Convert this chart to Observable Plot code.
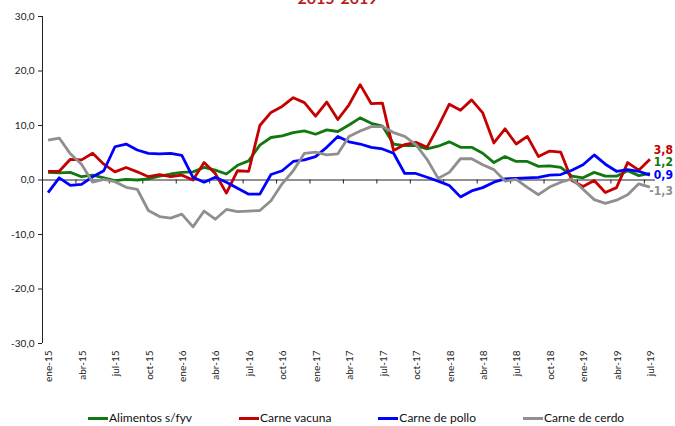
<!DOCTYPE html>
<html>
<head>
<meta charset="utf-8">
<script src="https://cdn.jsdelivr.net/npm/d3@7"></script>
<script src="https://cdn.jsdelivr.net/npm/@observablehq/plot@0.6"></script>
<style>
  body { margin: 0; background: #fff; }
  #wrap { position: relative; width: 675px; height: 426px; overflow: hidden; background: #fff; font-family: Lato, "Open Sans", sans-serif; }
  #title { position: absolute; top: -10px; left: 0; width: 675px; text-align: center; font-size: 16px; line-height: 16px; font-weight: bold; color: #b81c1c; }
  #chart { position: absolute; top: 0; left: 0; }
  #legend { position: absolute; top: 411px; left: 88px; display: flex; gap: 47px; font-size: 12px; line-height: 14px; color: #111; }
  .item { display: flex; align-items: center; }
  .swatch { display: inline-block; width: 20px; height: 3px; margin-right: 1px; }
</style>
</head>
<body>
<div id="wrap">
  <div id="chart"></div>
  <div id="title">2015-2019</div>
  <div id="legend"></div>
</div>
<script>
const months = [
  "ene-15","feb-15","mar-15","abr-15","may-15","jun-15","jul-15","ago-15","sep-15","oct-15","nov-15","dic-15",
  "ene-16","feb-16","mar-16","abr-16","may-16","jun-16","jul-16","ago-16","sep-16","oct-16","nov-16","dic-16",
  "ene-17","feb-17","mar-17","abr-17","may-17","jun-17","jul-17","ago-17","sep-17","oct-17","nov-17","dic-17",
  "ene-18","feb-18","mar-18","abr-18","may-18","jun-18","jul-18","ago-18","sep-18","oct-18","nov-18","dic-18",
  "ene-19","feb-19","mar-19","abr-19","may-19","jun-19","jul-19"
];

const alimentos = [1.4,1.3,1.4,0.6,0.9,0.4,-0.1,0.1,0.0,0.2,
  0.7,1.1,1.4,1.5,2.3,1.8,1.1,2.7,3.5,6.4,
  7.8,8.1,8.7,9.0,8.4,9.2,8.9,10.1,11.4,10.4,
  9.9,6.6,6.3,6.3,5.7,6.2,7.0,6.0,6.0,4.9,
  3.2,4.3,3.4,3.4,2.5,2.6,2.3,0.7,0.4,1.4,
  0.7,0.7,1.7,0.8,1.2];

const vacuna = [1.6,1.6,3.8,3.7,4.9,2.9,1.5,2.3,1.5,0.6,
  1.0,0.6,0.9,0.0,3.2,1.2,-2.4,1.7,1.6,10.0,
  12.4,13.5,15.1,14.2,11.7,14.3,11.1,13.8,17.5,14.0,
  14.1,5.4,6.5,6.9,6.0,9.8,13.9,12.8,14.7,12.3,
  6.8,9.4,6.6,8.0,4.3,5.3,5.1,-0.1,-1.2,-0.1,
  -2.3,-1.4,3.2,1.8,3.8];

const pollo = [-2.3,0.4,-1.0,-0.8,0.6,1.7,6.1,6.6,5.5,4.9,
  4.8,4.9,4.5,0.5,-0.4,0.5,-0.4,-1.5,-2.6,-2.6,
  1.0,1.7,3.4,3.7,4.3,6.0,8.0,7.0,6.6,6.0,
  5.7,4.9,1.2,1.2,0.5,-0.2,-1.0,-3.1,-2.0,-1.4,
  -0.4,0.2,0.3,0.4,0.5,0.9,1.0,1.8,2.8,4.6,
  2.9,1.6,1.9,1.6,0.9];

const cerdo = [7.3,7.7,4.8,2.9,-0.4,0.1,-0.3,-1.35,-1.7,-5.6,
  -6.7,-7.0,-6.25,-8.6,-5.7,-7.2,-5.4,-5.8,-5.7,-5.6,
  -3.8,-0.7,1.7,4.9,5.1,4.6,4.8,8.0,9.0,9.8,
  9.8,8.7,8.0,6.5,3.8,0.3,1.4,3.9,3.9,2.8,
  1.9,-0.2,0.1,-1.35,-2.7,-1.3,-0.4,0.2,-1.7,-3.6,
  -4.3,-3.7,-2.7,-0.7,-1.3];

const seriesNames = ["Alimentos s/fyv", "Carne vacuna", "Carne de pollo", "Carne de cerdo"];
const yTicks = [-30, -20, -10, 0, 10, 20, 30];

// styling
const colors = ["#10780f", "#c40000", "#0000ff", "#8f8f8f"];
const endLabelDy = [-11.3, -9.6, -0.4, 3.6];

const series = [alimentos, vacuna, pollo, cerdo].map((values, k) => ({
  name: seriesNames[k], values, color: colors[k], dy: endLabelDy[k]
}));

const fmt = d => d.toFixed(1).replace(".", ",");
const labelIdx = months.map((m, i) => i).filter(i => i % 3 === 0);
const boundaryIdx = labelIdx.filter(i => i > 0).map(i => i - 0.5);
const xDomain = [-0.5, months.length - 0.5];
const last = months.length - 1;

const chart = Plot.plot({
  width: 675,
  height: 400,
  marginLeft: 42,
  marginRight: 20,
  marginTop: 16,
  marginBottom: 57,
  style: { fontFamily: "Lato, 'Open Sans', sans-serif", fontSize: "10px", color: "#1a1a1a", background: "transparent" },
  x: { domain: xDomain, axis: null },
  y: { domain: [-30, 30], axis: null },
  marks: [
    Plot.axisY({ ticks: yTicks, tickFormat: fmt, tickSize: 4, tickPadding: 4, label: null, stroke: "#222" }),
    Plot.axisX({ ticks: labelIdx, tickFormat: i => months[i], tickRotate: -90, tickSize: 0, tickPadding: 7, label: null, anchor: "bottom", dx: 1 }),
    Plot.ruleX([xDomain[0]], { stroke: "#222", strokeWidth: 1 }),
    Plot.ruleY([0], { stroke: "#222", strokeWidth: 1 }),
    Plot.ruleX(boundaryIdx, { y1: 0, y2: 0, insetBottom: -4, stroke: "#222", strokeWidth: 1 }),
    ...series.map(s => Plot.line(s.values, {
      x: (d, i) => i, y: d => d, stroke: s.color, strokeWidth: 2.8,
      strokeLinejoin: "round", strokeLinecap: "butt"
    })),
    ...series.map(s => Plot.text([s], {
      x: () => last, y: d => d.values[last], text: d => fmt(d.values[last]),
      fill: s.color, dy: s.dy, dx: 23, textAnchor: "end",
      fontWeight: "bold", fontSize: 12, fontFamily: "'Liberation Sans Narrow', 'DejaVu Sans Condensed', sans-serif"
    }))
  ]
});
document.getElementById("chart").appendChild(chart);

const legend = document.getElementById("legend");
series.forEach(s => {
  const item = document.createElement("div");
  item.className = "item";
  const sw = document.createElement("span");
  sw.className = "swatch";
  sw.style.background = s.color;
  const t = document.createElement("span");
  t.textContent = s.name;
  item.appendChild(sw);
  item.appendChild(t);
  legend.appendChild(item);
});
</script>
</body>
</html>
